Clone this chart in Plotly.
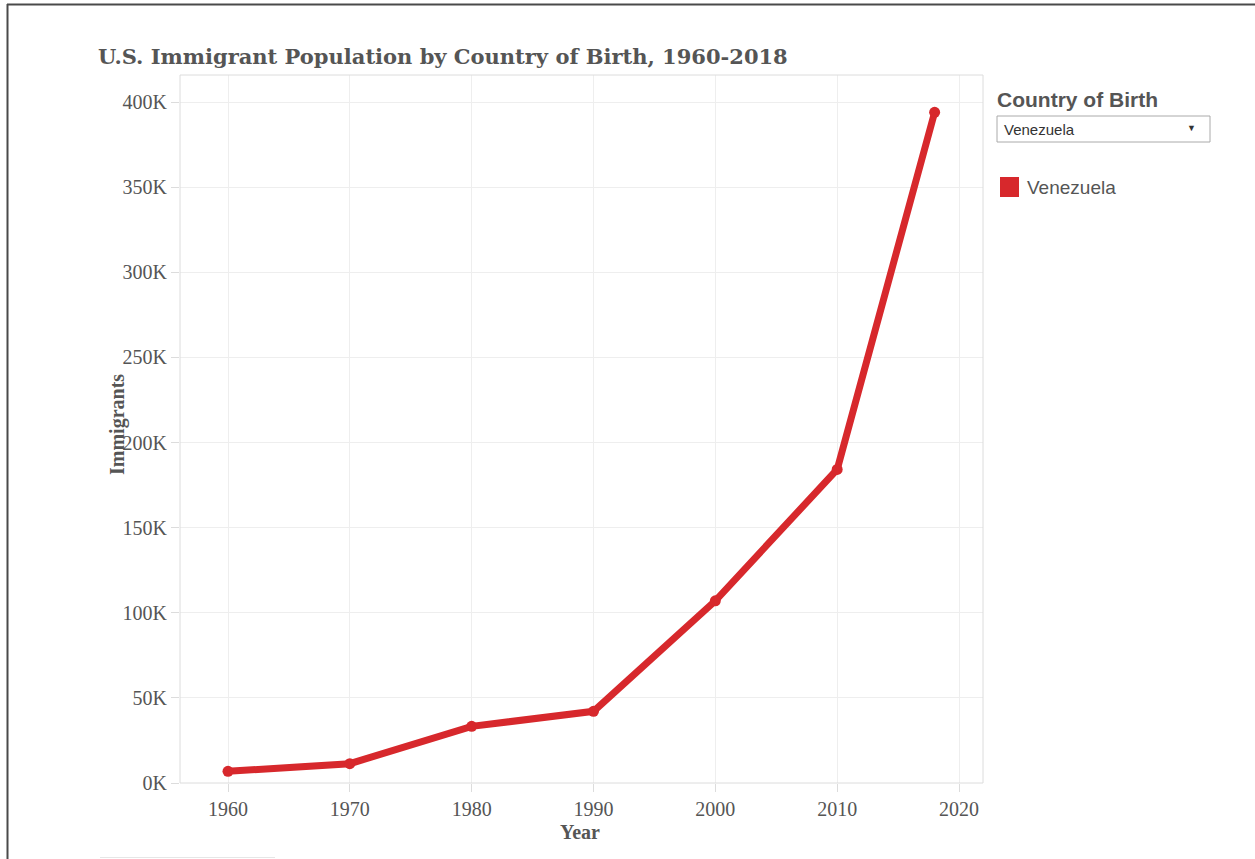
import plotly.graph_objects as go

years = [1960, 1970, 1980, 1990, 2000, 2010, 2018]
immigrants = [6851, 11348, 33281, 42119, 107031, 184215, 393981]
country = "Venezuela"
y_ticks = [0, 50000, 100000, 150000, 200000, 250000, 300000, 350000, 400000]
y_tick_labels = ["0K", "50K", "100K", "150K", "200K", "250K", "300K", "350K", "400K"]
x_ticks = [1960, 1970, 1980, 1990, 2000, 2010, 2020]

W, H = 1255, 859
L, R, T, B = 180, 983, 75, 783
RED = "#d7282c"
GREY = "#555555"

def px(x):
    return (x - L) / (R - L)

def py(y):
    return (B - y) / (B - T)

fig = go.Figure()
fig.add_trace(go.Scatter(
    x=years, y=immigrants, mode="lines+markers", name=country,
    line=dict(color=RED, width=7), marker=dict(color=RED, size=11),
    showlegend=False,
))

serif = "Liberation Serif"
sans = "Liberation Sans"

annotations = [
    dict(text="<b>U.S. Immigrant Population by Country of Birth, 1960-2018</b>",
         x=px(96), y=py(56), xanchor="left", yanchor="middle",
         font=dict(family="DejaVu Serif", size=21, color=GREY)),
    dict(text="<b>Immigrants</b>", x=px(117), y=py(425), textangle=-90,
         xanchor="center", yanchor="middle", font=dict(family=serif, size=20, color=GREY)),
    dict(text="<b>Year</b>", x=px(580), y=py(832), xanchor="center", yanchor="middle",
         font=dict(family=serif, size=20, color=GREY)),
    dict(text="<b>Country of Birth</b>", x=px(995), y=py(100), xanchor="left", yanchor="middle",
         font=dict(family=sans, size=21, color=GREY)),
    dict(text=country, x=px(1002), y=py(129), xanchor="left", yanchor="middle",
         font=dict(family=sans, size=15, color="#333333")),
    dict(text="▼", x=px(1191), y=py(128), xanchor="center", yanchor="middle",
         font=dict(family=sans, size=9, color="#333333")),
    dict(text=country, x=px(1025), y=py(187), xanchor="left", yanchor="middle",
         font=dict(family=sans, size=19, color=GREY)),
]
for a in annotations:
    a.update(xref="paper", yref="paper", showarrow=False)

shapes = [
    dict(type="rect", x0=px(997), x1=px(1210), y0=py(116), y1=py(142),
         line=dict(color="#aaaaaa", width=1), fillcolor="white"),
    dict(type="rect", x0=px(1000), x1=px(1019), y0=py(177), y1=py(197),
         line=dict(width=0), fillcolor=RED),
    dict(type="line", x0=px(7), x1=px(1255), y0=py(4.5), y1=py(4.5),
         line=dict(color="#4a4a4a", width=2)),
    dict(type="line", x0=px(7.5), x1=px(7.5), y0=py(4), y1=py(859),
         line=dict(color="#4a4a4a", width=2)),
    dict(type="line", x0=px(100), x1=px(275), y0=py(857.5), y1=py(857.5),
         line=dict(color="#e6e6e6", width=1)),
    dict(type="rect", x0=0, x1=1, y0=0, y1=1, line=dict(color="#dcdcdc", width=1)),
]
for s in shapes:
    s.update(xref="paper", yref="paper", layer="above")

fig.update_layout(
    width=W, height=H,
    margin=dict(l=L, r=W - R, t=T, b=H - B),
    paper_bgcolor="white", plot_bgcolor="white",
    annotations=annotations, shapes=shapes,
    xaxis=dict(range=[1956.06, 2021.97], tickvals=x_ticks, showgrid=True,
               gridcolor="#eeeeee", gridwidth=1, zeroline=False,
               ticks="outside", ticklen=8, tickcolor="#dcdcdc",
               tickfont=dict(family=serif, size=20, color=GREY),
               showline=False, fixedrange=True),
    yaxis=dict(range=[0, 415900], tickvals=y_ticks, ticktext=y_tick_labels,
               showgrid=True, gridcolor="#eeeeee", gridwidth=1, zeroline=False,
               ticks="outside", ticklen=8, tickcolor="#dcdcdc",
               tickfont=dict(family=serif, size=20, color=GREY),
               showline=False, fixedrange=True),
)

fig.write_html("out.html", config=dict(displayModeBar=False))
